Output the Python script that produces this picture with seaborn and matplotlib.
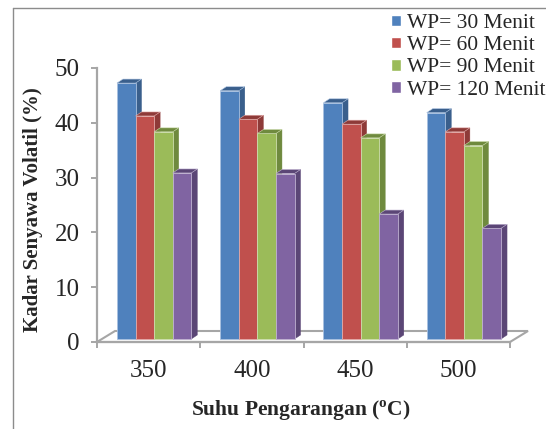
import matplotlib
matplotlib.use("Agg")
import matplotlib.pyplot as plt
import matplotlib.transforms as mtransforms
from matplotlib.patches import Polygon
import seaborn as sns
import pandas as pd

# ---- data ----
suhu = ['350', '400', '450', '500']
wp_labels = ['WP= 30 Menit', 'WP= 60 Menit', 'WP= 90 Menit', 'WP= 120 Menit']
wp30 = [46.7, 45.3, 43.1, 41.3]
wp60 = [40.7, 40.1, 39.2, 37.8]
wp90 = [37.8, 37.5, 36.7, 35.3]
wp120 = [30.3, 30.2, 22.8, 20.2]
y_ticks = [0, 10, 20, 30, 40, 50]

front_colors = ['#4F81BD', '#C0504D', '#9BBB59', '#8064A2']
side_colors = ['#3A5F8C', '#8E3A38', '#6F8A3E', '#5B4676']
edge_colors = ['#A9C1E0', '#E2A9A7', '#CDDDAD', '#BFB1D1']

series = [wp30, wp60, wp90, wp120]
rows = []
for lab, vals in zip(wp_labels, series):
    for s, v in zip(suhu, vals):
        rows.append({'Suhu': s, 'Kadar': v, 'WP': lab})
df = pd.DataFrame(rows)

sns.set_style("white")
plt.rcParams['font.family'] = ['Liberation Serif', 'DejaVu Serif']
plt.rcParams['mathtext.fontset'] = 'custom'
plt.rcParams['mathtext.rm'] = 'Liberation Serif'
plt.rcParams['mathtext.bf'] = 'Liberation Serif:bold'

W, H = 546, 429
fig = plt.figure(figsize=(W / 100, H / 100), dpi=100)
ax = fig.add_axes([97 / W, (H - 342) / H, (510 - 97) / W, (342 - 68) / H])

sns.barplot(data=df, x='Suhu', y='Kadar', hue='WP', order=suhu,
            hue_order=wp_labels, palette=front_colors, saturation=1,
            width=0.72, ax=ax, legend=True)

ax.set_xlim(-0.5, 3.5)
ax.set_ylim(0, 50)
ax.set_yticks(y_ticks)

# pixel scale of data units
p0 = ax.transData.transform((0, 0))
p1 = ax.transData.transform((1, 1))
sx = p1[0] - p0[0]
sy = p1[1] - p0[1]

# pseudo-3D styling
bar_shift = mtransforms.ScaledTranslation(5.5 / 100, 3 / 100, fig.dpi_scale_trans)
btrans = ax.transData + bar_shift
ddx, ddy = 6 / sx, 4 / sy

for j, cont in enumerate(ax.containers):
    for patch in cont.patches:
        x0 = patch.get_x()
        w = patch.get_width()
        h = patch.get_height()
        patch.set_transform(btrans)
        patch.set_zorder(3 + 2 * j + 1)
        patch.set_edgecolor(edge_colors[j])
        patch.set_linewidth(0.6)
        patch.set_clip_on(False)
        side = Polygon([(x0 + w, 0), (x0 + w, h), (x0 + w + ddx, h + ddy),
                        (x0 + w + ddx, ddy)], closed=True,
                       facecolor=side_colors[j], edgecolor=side_colors[j],
                       linewidth=0.3, transform=btrans, zorder=3 + 2 * j,
                       clip_on=False)
        top = Polygon([(x0, h), (x0 + w, h), (x0 + w + ddx, h + ddy),
                       (x0 + ddx, h + ddy)], closed=True,
                      facecolor=side_colors[j], edgecolor=edge_colors[j],
                      linewidth=0.4, transform=btrans, zorder=3 + 2 * j + 1,
                      clip_on=False)
        ax.add_patch(side)
        ax.add_patch(top)

# floor
fdx, fdy = 18 / sx, 11 / sy
floor = Polygon([(-0.5, 0), (3.5, 0), (3.5 + fdx, fdy), (-0.5 + fdx, fdy)],
                closed=True, facecolor='white', edgecolor='#A6A6A6',
                linewidth=1.5, zorder=1, clip_on=False)
ax.add_patch(floor)

# axes styling
for sp in ['top', 'right']:
    ax.spines[sp].set_visible(False)
for sp in ['left', 'bottom']:
    ax.spines[sp].set_color('#A6A6A6')
    ax.spines[sp].set_linewidth(1.6)
    ax.spines[sp].set_zorder(2)

ax.tick_params(axis='y', which='major', direction='out', length=4.5,
               width=1.4, color='#A6A6A6', labelsize=18, pad=8, left=True)
ax.set_xticks([-0.5, 0.5, 1.5, 2.5, 3.5], minor=True)
ax.tick_params(axis='x', which='minor', direction='out', length=4.5,
               width=1.4, color='#A6A6A6', bottom=True)
ax.tick_params(axis='x', which='major', length=0, labelsize=18, pad=13)

ax.set_xlabel(r'Suhu Pengarangan ($^{\mathbf{o}}$C)', fontsize=15.5,
              fontweight='bold')
ax.xaxis.set_label_coords((301 - 97) / 413, (342 - 411) / 274)
ax.xaxis.label.set_va('center')
ax.set_ylabel('Kadar Senyawa Volatil (%)', fontsize=15, fontweight='bold')
ax.yaxis.set_label_coords((33 - 97) / 413, (342 - 210) / 274)
ax.yaxis.label.set_va('center')

# legend
handles, labels = ax.get_legend_handles_labels()
ax.legend(handles, labels, loc='upper left',
          bbox_to_anchor=(391 / W, 1 - 14 / H), bbox_transform=fig.transFigure,
          frameon=False, fontsize=15.5, handlelength=0.45, handleheight=0.45,
          handletextpad=0.28, labelspacing=0.15, borderpad=0, borderaxespad=0)

# outer frame lines (partially visible border)
fig.add_artist(plt.Line2D([13 / W, 1], [1 - 8 / H, 1 - 8 / H],
                          transform=fig.transFigure, color='#8C8C8C', lw=1))
fig.add_artist(plt.Line2D([13 / W, 13 / W], [0, 1 - 8 / H],
                          transform=fig.transFigure, color='#8C8C8C', lw=1))

fig.savefig('out.png', dpi=100, facecolor='white')
